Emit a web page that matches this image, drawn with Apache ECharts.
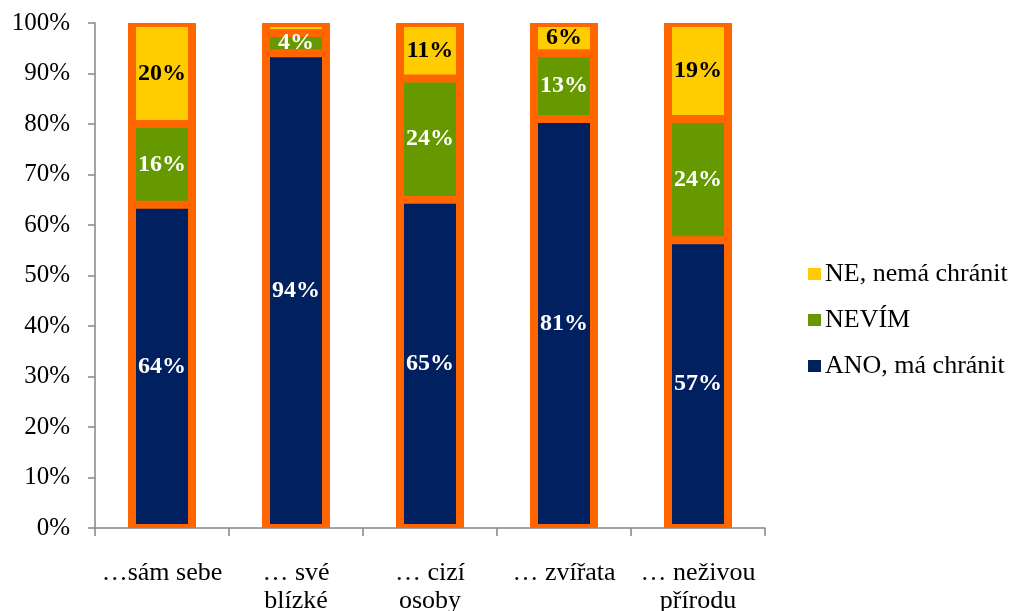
<!DOCTYPE html>
<html>
<head>
<meta charset="utf-8">
<script src="https://cdn.jsdelivr.net/npm/echarts@6/dist/echarts.min.js"></script>
<style>
  html, body { margin: 0; padding: 0; background: #fff; }
  #chart { width: 1011px; height: 611px; }
</style>
</head>
<body>
<div id="chart"></div>
<script>
// data
var categories = ['…sám sebe', '… své\nblízké', '… cizí\nosoby', '… zvířata', '… neživou\npřírodu'];
var ano = [64, 94, 65, 81, 57];
var nevim = [16, 4, 24, 13, 24];
var ne = [20, 2, 11, 6, 19];
var totals = [100, 100, 100, 100, 100];
var yTicks = [0, 10, 20, 30, 40, 50, 60, 70, 80, 90, 100];

var FONT = '"Liberation Serif", "Times New Roman", serif';
var ORANGE = '#FF6600';

function mkSeries(name, data, color, labelColor) {
	return {
		name: name,
		type: 'bar',
		stack: 'total',
		barWidth: 60,
		z: 3,
		data: data,
		itemStyle: {
			color: color,
			borderColor: ORANGE,
			borderWidth: 4
		},
		label: {
			show: true,
			position: 'inside',
			fontFamily: FONT,
			fontWeight: 'bold',
			fontSize: 24,
			color: labelColor,
			formatter: function (p) {
				return p.value < 3 ? '' : p.value + '%';
			}
		}
	};
}

var chart = echarts.init(document.getElementById('chart'));
var option = {
	animation: false,
	textStyle: { fontFamily: FONT },
	grid: {
		left: 95,
		right: 246,
		top: 23,
		bottom: 83,
		outerBoundsMode: 'none'
	},
	legend: {
		orient: 'vertical',
		left: 803,
		top: 256,
		itemWidth: 13,
		itemHeight: 12,
		itemGap: 20,
		icon: 'rect',
		itemStyle: { borderWidth: 0 },
		data: ['NE, nemá chránit', 'NEVÍM', 'ANO, má chránit'],
		textStyle: { fontFamily: FONT, fontSize: 26, color: '#000', padding: [0, 0, 0, -1] }
	},
	xAxis: [{
		type: 'category',
		data: categories,
		axisLine: { lineStyle: { color: '#868686', width: 1.5 } },
		axisTick: { show: true, length: 8, lineStyle: { color: '#868686', width: 1.5 } },
		axisLabel: {
			interval: 0,
			fontFamily: FONT,
			fontSize: 26,
			color: '#000',
			margin: 31,
			lineHeight: 28
		}
	}, {
		type: 'category',
		data: categories,
		show: false
	}],
	yAxis: {
		type: 'value',
		min: 0,
		max: 100,
		interval: 10,
		splitLine: { show: false },
		axisLine: { show: true, lineStyle: { color: '#868686', width: 1.5 } },
		axisTick: { show: true, length: 7, lineStyle: { color: '#868686', width: 1.5 } },
		axisLabel: {
			fontFamily: FONT,
			fontSize: 25,
			color: '#000',
			margin: 25,
			formatter: function (v) { return yTicks.indexOf(v) >= 0 ? v + '%' : ''; }
		}
	},
	series: [
		{
			name: 'frame',
			type: 'bar',
			xAxisIndex: 1,
			barWidth: 68,
			z: 1,
			silent: true,
			data: totals,
			itemStyle: { color: ORANGE }
		},
		mkSeries('ANO, má chránit', ano, '#002060', '#fff'),
		mkSeries('NEVÍM', nevim, '#669900', '#fff'),
		mkSeries('NE, nemá chránit', ne, '#FFCC00', '#000')
	]
};
chart.setOption(option);
</script>
</body>
</html>
